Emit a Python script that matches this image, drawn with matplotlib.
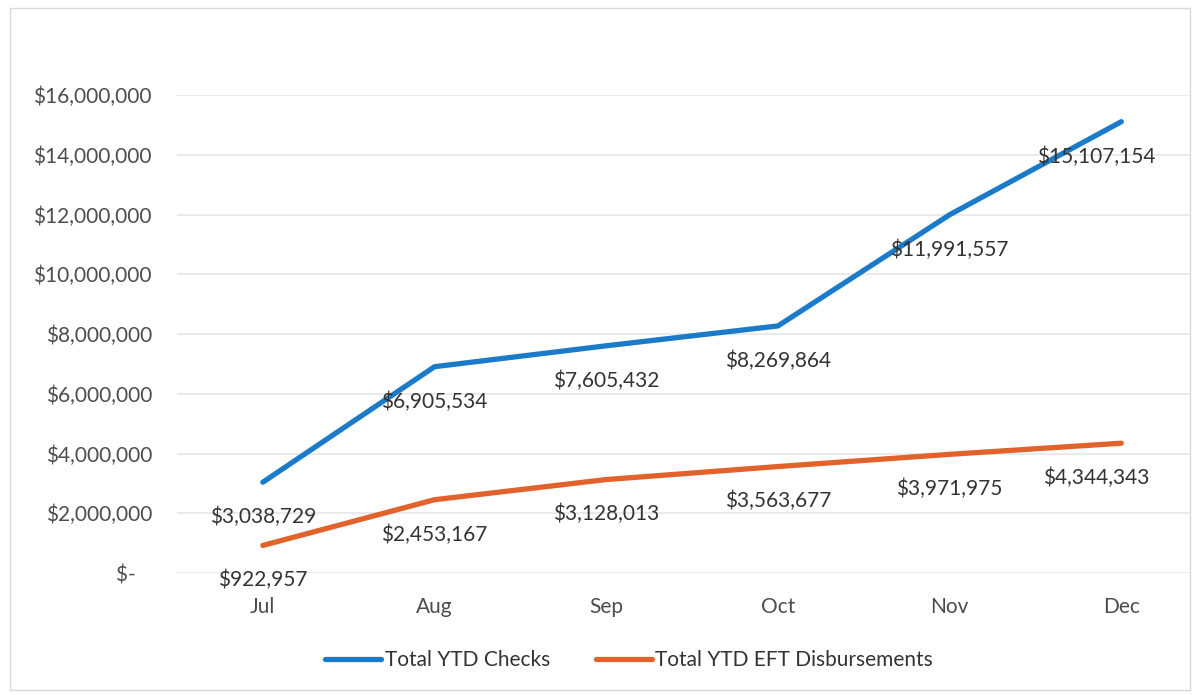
import matplotlib
matplotlib.use("Agg")
import matplotlib.pyplot as plt
from matplotlib.patches import Rectangle

months = ["Jul", "Aug", "Sep", "Oct", "Nov", "Dec"]
checks = [3038729, 6905534, 7605432, 8269864, 11991557, 15107154]
eft = [922957, 2453167, 3128013, 3563677, 3971975, 4344343]
yticks = [0, 2000000, 4000000, 6000000, 8000000, 10000000, 12000000, 14000000, 16000000]

plt.rcParams['font.family'] = ['Lato', 'DejaVu Sans']

W, H = 1199, 695
fig = plt.figure(figsize=(W / 100, H / 100), dpi=100)
fig.patches.append(Rectangle((10 / W, 5 / H), 1180 / W, 682 / H, transform=fig.transFigure,
                             fill=False, edgecolor='#d9d9d9', linewidth=1.0))

left, right, top, bottom = 177, 1190, 95, 573
ax = fig.add_axes([left / W, 1 - bottom / H, (right - left) / W, (bottom - top) / H])

blue = '#1b7bc9'
orange = '#e2622c'
x = list(range(len(months)))
ax.plot(x, checks, color=blue, lw=3.8, solid_capstyle='round', label='Total YTD Checks', zorder=3)
ax.plot(x, eft, color=orange, lw=3.8, solid_capstyle='round', label='Total YTD EFT Disbursements', zorder=3)

n = len(months)
for series in (checks, eft):
    for xi, v in zip(x, series):
        dx = -18 if xi == n - 1 else 0
        ax.annotate(f"${v:,.0f}", (xi, v), xytext=(dx, -25), textcoords='offset points',
                    ha='center', va='center', fontsize=15, color='#333333', zorder=4)

ax.set_xlim(-0.5, 5.4)
ax.set_ylim(0, 16000000)
ax.set_yticks(yticks)
ax.set_yticklabels(["$-   "] + [f"${v:,.0f}" for v in yticks[1:]])
ax.set_xticks(x)
ax.set_xticklabels(months)
ax.tick_params(axis='both', length=0, labelsize=15, labelcolor='#4d4d4d')
ax.tick_params(axis='y', pad=18)
ax.tick_params(axis='x', pad=17)
for s in ax.spines.values():
    s.set_visible(False)
ax.grid(axis='y', color='#e6e6e6', lw=1.2)
ax.set_axisbelow(True)

fig.legend(loc='center', bbox_to_anchor=(629 / W, 1 - 660 / H), ncol=2, frameon=False,
           fontsize=15, handlelength=2.7, handletextpad=0.15, columnspacing=2.2,
           labelcolor='#333333')

fig.savefig("out.png", dpi=100, facecolor='white')
